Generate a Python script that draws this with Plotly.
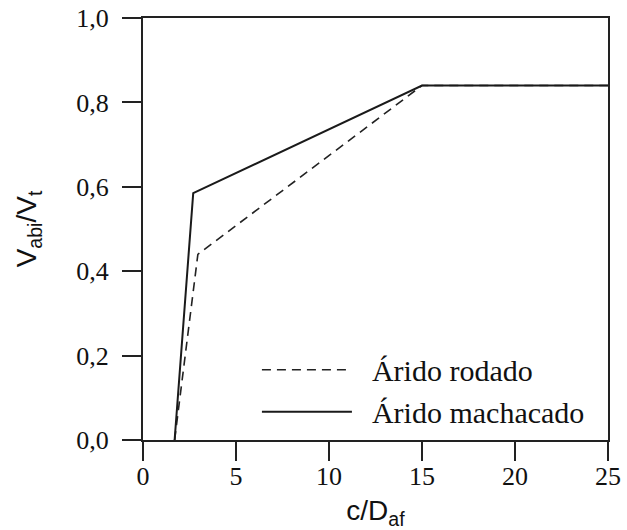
import plotly.graph_objects as go

# Data
rodado_x = [1.7, 2.95, 15.0, 25.0]
rodado_y = [0.0, 0.44, 0.84, 0.84]
machacado_x = [1.7, 2.7, 15.0, 25.0]
machacado_y = [0.0, 0.585, 0.84, 0.84]

x_ticks = [0, 5, 10, 15, 20, 25]
y_ticks = [0.0, 0.2, 0.4, 0.6, 0.8, 1.0]
y_ticktext = ["0,0", "0,2", "0,4", "0,6", "0,8", "1,0"]
series_names = ["\u00a0\u00a0Árido rodado", "\u00a0\u00a0Árido machacado"]

fig = go.Figure()
fig.add_trace(go.Scatter(x=rodado_x, y=rodado_y, mode="lines", name=series_names[0],
                         line=dict(color="#222", width=1.6, dash="9px,6px")))
fig.add_trace(go.Scatter(x=machacado_x, y=machacado_y, mode="lines", name=series_names[1],
                         line=dict(color="#1a1a1a", width=2)))

serif = "Liberation Serif"
sans = "Liberation Sans"

fig.update_layout(
    width=627, height=530,
    margin=dict(l=143, r=19, t=18, b=90),
    plot_bgcolor="white", paper_bgcolor="white",
    showlegend=True,
    legend=dict(x=0.245, y=0.228, xanchor="left", yanchor="top",
                font=dict(family=serif, size=30, color="#111"),
                bgcolor="rgba(0,0,0,0)", itemwidth=90, tracegroupgap=0),
    xaxis=dict(range=[0, 25], tickvals=x_ticks, ticks="outside", ticklen=19, tickwidth=1.5,
               tickcolor="#222", showline=True, linecolor="#222", linewidth=2, mirror=True,
               showgrid=False, zeroline=False, automargin=False, ticklabelstandoff=-7,
               tickfont=dict(family=serif, size=26, color="#111"),
               title=dict(text="c/D<sub>af</sub>", font=dict(family=sans, size=28, color="#111"),
                          standoff=20)),
    yaxis=dict(range=[0, 1.0], tickvals=y_ticks, ticktext=y_ticktext, ticks="outside", ticklen=19,
               tickwidth=1.5, tickcolor="#222", showline=True, linecolor="#222", linewidth=2,
               mirror=True, showgrid=False, zeroline=False, automargin=False, ticklabelstandoff=8,
               tickfont=dict(family=serif, size=26, color="#111"),
               title=dict(text="V<sub>abi</sub>/V<sub>t</sub>", font=dict(family=sans, size=28, color="#111"),
                          standoff=31)),
)

fig.write_html("out.html", config={"displayModeBar": False},
               post_script="document.body.style.margin='0';")
